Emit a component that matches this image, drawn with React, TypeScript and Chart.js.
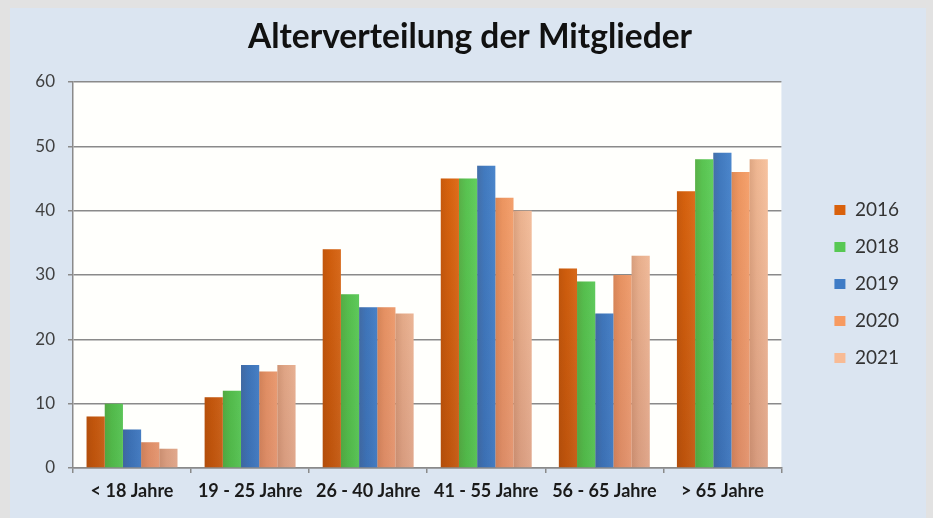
import React, { useEffect, useRef } from 'react';
import { Chart, registerables } from 'chart.js';

Chart.register(...registerables);

const titleText = 'Alterverteilung der Mitglieder';
const categories = ['< 18 Jahre', '19 - 25 Jahre', '26 - 40 Jahre', '41 - 55 Jahre', '56 - 65 Jahre', '> 65 Jahre'];
const seriesNames = ['2016', '2018', '2019', '2020', '2021'];
const values2016 = [8, 11, 34, 45, 31, 43];
const values2018 = [10, 12, 27, 45, 29, 48];
const values2019 = [6, 16, 25, 47, 24, 49];
const values2020 = [4, 15, 25, 42, 30, 46];
const values2021 = [3, 16, 24, 40, 33, 48];
const yMin = 0;
const yMax = 60;
const yStep = 10;

const topColors = ['#e56a0f', '#5cd058', '#4282cc', '#fba063', '#fdc7a0'];
const bottomColors = ['#c2560d', '#50bf4d', '#3a74bd', '#e2916b', '#dea285'];
const legendColors = ['#d9610c', '#57c853', '#3f7cc6', '#f79a60', '#f8bb95'];

const allValues = [values2016, values2018, values2019, values2020, values2021];

const bgPlugin = {
  id: 'bgPlugin',
  beforeDraw(chart: any) {
    const { ctx, width, height, chartArea } = chart;
    ctx.save();
    ctx.fillStyle = '#e2e2e2';
    ctx.fillRect(0, 0, width, height);
    ctx.fillStyle = '#dbe5f1';
    ctx.fillRect(10, 8, width - 17, height - 8);
    if (chartArea) {
      ctx.fillStyle = '#fffffc';
      ctx.fillRect(chartArea.left, chartArea.top, chartArea.right - chartArea.left, chartArea.bottom - chartArea.top);
    }
    ctx.restore();
  },
};

const shadePlugin = {
  id: 'shadePlugin',
  afterDatasetsDraw(chart: any) {
    const { ctx } = chart;
    ctx.save();
    chart.data.datasets.forEach((_: any, di: number) => {
      const meta = chart.getDatasetMeta(di);
      meta.data.forEach((bar: any) => {
        const left = bar.x - bar.width / 2;
        const w = bar.width;
        const g = ctx.createLinearGradient(left, 0, left + w, 0);
        g.addColorStop(0, 'rgba(90,30,0,0.16)');
        g.addColorStop(0.4, 'rgba(90,30,0,0.05)');
        g.addColorStop(1, 'rgba(255,255,255,0.06)');
        ctx.fillStyle = g;
        ctx.fillRect(left, Math.min(bar.y, bar.base), w, Math.abs(bar.base - bar.y));
      });
    });
    ctx.restore();
  },
};

function makeColor(i: number) {
  return (c: any) => {
    const area = c.chart.chartArea;
    if (!area) return legendColors[i];
    const g = c.chart.ctx.createLinearGradient(0, area.top, 0, area.bottom);
    g.addColorStop(0, topColors[i]);
    g.addColorStop(1, bottomColors[i]);
    return g;
  };
}

export default function App() {
  const ref = useRef<HTMLCanvasElement>(null);
  useEffect(() => {
    document.body.style.margin = '0';
    const canvas = ref.current!;
    const chart = new Chart(canvas, {
      type: 'bar',
      data: {
        labels: categories,
        datasets: seriesNames.map((name, i) => ({
          label: name,
          data: allValues[i],
          backgroundColor: makeColor(i),
          borderWidth: 0,
          categoryPercentage: 0.77,
          barPercentage: 1.0,
        })),
      },
      options: {
        animation: false,
        responsive: false,
        layout: { padding: { left: 31, top: 8, right: 24, bottom: 0 } },
        plugins: {
          title: {
            display: true,
            text: titleText,
            color: '#111111',
            font: { family: 'Lato', size: 33.5, weight: 'bold' },
            padding: { top: 9, bottom: 24.8 },
          },
          legend: {
            position: 'right',
            title: { display: true, text: ' ', font: { size: 10 }, padding: { top: 15, bottom: 15 } },
            labels: {
              boxWidth: 11,
              boxHeight: 10,
              padding: 18,
              color: '#333333',
              font: { family: 'Lato', size: 19 },
              generateLabels: (chart: any) => {
                const items = Chart.defaults.plugins.legend.labels.generateLabels(chart);
                return items.map((it: any, i: number) => ({ ...it, fillStyle: legendColors[i], strokeStyle: legendColors[i], lineWidth: 0 }));
              },
            },
          },
          tooltip: { enabled: false },
        },
        scales: {
          x: {
            grid: { offset: true, drawOnChartArea: false, drawTicks: true, tickLength: 5, color: '#8a8a8a', lineWidth: 1.5 },
            border: { display: true, color: '#8a8a8a', width: 1.5 },
            ticks: { color: '#1a1a1a', font: { family: 'Lato', size: 18, weight: 'bold' }, padding: 7 },
            afterFit: (s: any) => { s.height = 50; },
          },
          y: {
            min: yMin,
            max: yMax,
            ticks: { stepSize: yStep, color: '#404040', font: { family: 'Lato', size: 17 }, padding: 13 },
            grid: { color: '#8a8a8a', lineWidth: 1.5, tickLength: 5 },
            border: { display: true, color: '#8a8a8a', width: 1.5 },
            afterFit: (s: any) => { s.width = 42; },
          },
          spacer: {
            position: 'right',
            display: true,
            ticks: { display: false },
            grid: { display: false },
            border: { display: false },
            afterFit: (s: any) => { s.width = 35; },
          },
        },
      },
      plugins: [bgPlugin, shadePlugin],
    } as any);
    return () => chart.destroy();
  }, []);
  return (
    <div style={{ width: 933, height: 518 }}>
      <canvas ref={ref} width={933} height={518} style={{ display: 'block' }} />
    </div>
  );
}
